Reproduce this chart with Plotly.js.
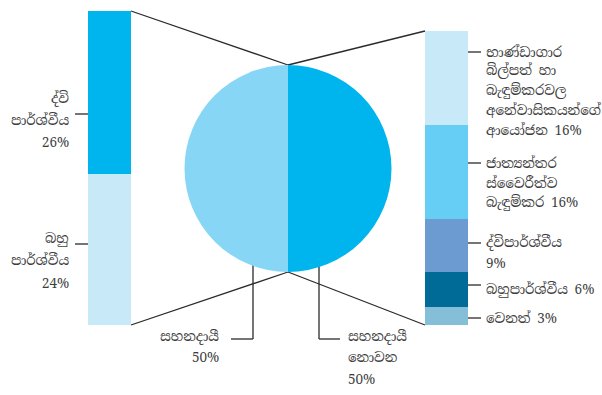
<!DOCTYPE html>
<html>
<head>
<meta charset="utf-8">
<script src="https://cdn.plot.ly/plotly-3.0.1.min.js"></script>
<style>html,body{margin:0;padding:0;background:#fff}#chart{width:602px;height:395px}</style>
</head>
<body>
<div id="chart"></div>
<script>
// ---- data ----
var pieLabels = ['සහනදායී නොවන', 'සහනදායී'];
var pieValues = [50, 50];
var pieColors = ['#00b5ee', '#88d6f6'];

// left bar (breakdown of concessional), bottom -> top
var leftLabels = ['බහු පාර්ශ්වීය', 'ද්වි පාර්ශ්වීය'];
var leftValues = [24, 26];
var leftColors = ['#c8e9f8', '#00b5ee'];

// right bar (breakdown of non-concessional), bottom -> top
var rightLabels = ['වෙනත්', 'බහුපාර්ශ්වීය', 'ද්විපාර්ශ්වීය', 'ජාත්‍යන්තර ස්වෛරීත්ව බැඳුම්කර', 'භාණ්ඩාගාර බිල්පත් හා බැඳුම්කරවල අනේවාසිකයන්ගේ ආයෝජන'];
var rightValues = [3, 6, 9, 16, 16];
var rightColors = ['#84bfd7', '#006b96', '#6b9bd1', '#66cdf5', '#c8e9f8'];

// text lines of labels (as drawn)
var leftText = [['බහු', 'පාර්ශ්වීය', '24%'], ['ද්වි', 'පාර්ශ්වීය', '26%']];
var rightText = [['වෙනත් 3%'], ['බහුපාර්ශ්වීය 6%'], ['ද්විපාර්ශ්වීය', '9%'],
  ['ජාත්‍යන්තර', 'ස්වෛරීත්ව', 'බැඳුම්කර 16%'],
  ['භාණ්ඩාගාර', 'බිල්පත් හා', 'බැඳුම්කරවල', 'අනේවාසිකයන්ගේ', 'ආයෝජන 16%']];
var pieText = [['සහනදායී', '50%'], ['සහනදායී', 'නොවන', '50%']];

// ---- layout helpers ----
var W = 602, H = 395;
function px(x){ return x / W; }
function py(y){ return 1 - y / H; }
var FONT = '"Noto Serif Sinhala","Noto Sans Sinhala","Iskoola Pota",serif';
var FS = 13.5;
var TXT = '#3c3c3c';
var LINE = '#2b2b2b';

var pieCx = 288, pieCy = 168.5, pieR = 103.5;
function pieEdgeY(x){ return pieCy + Math.sqrt(pieR*pieR - (x-pieCx)*(x-pieCx)); }

// bar geometry (paper coords)
var LB = {x: [px(88), px(131)], y: [py(325), py(11)]};
var RB = {x: [px(425), px(468)], y: [py(325), py(31)]};

var traces = [];
traces.push({
  type: 'pie', values: pieValues, labels: pieLabels, sort: false,
  direction: 'clockwise', rotation: 0,
  marker: {colors: pieColors, line: {width: 0}},
  textinfo: 'none', hoverinfo: 'label+percent', showlegend: false,
  domain: {x: [px(pieCx - pieR), px(pieCx + pieR)], y: [py(pieCy + pieR), py(pieCy - pieR)]}
});
leftValues.forEach(function(v, i){
  traces.push({type: 'bar', x: [0], y: [v], name: leftLabels[i], width: 1,
    marker: {color: leftColors[i], line: {width: 0}}, xaxis: 'x', yaxis: 'y', showlegend: false, hoverinfo: 'name+y'});
});
rightValues.forEach(function(v, i){
  traces.push({type: 'bar', x: [0], y: [v], name: rightLabels[i], width: 1,
    marker: {color: rightColors[i], line: {width: 0}}, xaxis: 'x2', yaxis: 'y2', showlegend: false, hoverinfo: 'name+y'});
});

var leftTotal = leftValues.reduce(function(a,b){return a+b;}, 0);
var rightTotal = rightValues.reduce(function(a,b){return a+b;}, 0);

var shapes = [];
function seg(x0, y0, x1, y1){
  shapes.push({type: 'line', x0: x0, y0: y0, x1: x1, y1: y1, xref: 'paper', yref: 'paper',
    line: {color: LINE, width: 1.3}, layer: 'below'});
}
// connectors from pie to bars (bar tops/bottoms = stacked totals on the axis domains)
seg(LB.x[1], LB.y[1], px(pieCx), py(pieCy - pieR));
seg(LB.x[1], LB.y[0], px(pieCx), py(pieCy + pieR));
seg(RB.x[0], RB.y[1], px(pieCx), py(pieCy - pieR));
seg(RB.x[0], RB.y[0], px(pieCx), py(pieCy + pieR));

var annotations = [];
function addLines(lines, x, yc, spacing, anchor){
  lines.forEach(function(t, k){
    annotations.push({text: t, x: px(x), y: py(yc + k*spacing), xref: 'paper', yref: 'paper',
      xanchor: anchor, yanchor: 'middle', showarrow: false, font: {family: FONT, size: FS, color: TXT}});
  });
}
// left labels
var leftLeaderY = [244, 114];
var leftFirstY = [238, 98];
leftText.forEach(function(lines, i){
  seg(px(75), py(leftLeaderY[i]), px(88), py(leftLeaderY[i]));
  addLines(lines, 71, leftFirstY[i], 22.5, 'right');
});
// right labels
var rightLeaderY = [318, 285, 243, 163, 52];
var rightFirstY = [318, 289, 243, 163, 52];
var rightSpacing = [20, 20, 20, 20, 19.5];
rightText.forEach(function(lines, i){
  seg(px(468), py(rightLeaderY[i]), px(481), py(rightLeaderY[i]));
  addLines(lines, 484, rightFirstY[i], rightSpacing[i], 'left');
});
// pie labels
seg(px(231), py(339), px(253), py(339));
seg(px(253), py(339), px(253), py(pieEdgeY(253) - 3));
seg(px(319), py(339), px(340), py(339));
seg(px(319), py(339), px(319), py(pieEdgeY(319) - 3));
addLines(pieText[0], 221, 336, 21.5, 'right');
addLines(pieText[1], 346, 336, 21.5, 'left');

var axisHidden = {showgrid: false, zeroline: false, showticklabels: false, ticks: '', showline: false, fixedrange: true};
var layout = {
  width: W, height: H, margin: {l: 0, r: 0, t: 0, b: 0},
  paper_bgcolor: '#ffffff', plot_bgcolor: 'rgba(0,0,0,0)',
  barmode: 'stack', bargap: 0, showlegend: false,
  xaxis: Object.assign({domain: LB.x, range: [-0.5, 0.5]}, axisHidden),
  yaxis: Object.assign({domain: LB.y, range: [0, leftTotal]}, axisHidden),
  xaxis2: Object.assign({domain: RB.x, range: [-0.5, 0.5], anchor: 'y2'}, axisHidden),
  yaxis2: Object.assign({domain: RB.y, range: [0, rightTotal], anchor: 'x2'}, axisHidden),
  shapes: shapes, annotations: annotations
};
Plotly.newPlot('chart', traces, layout, {displayModeBar: false, staticPlot: true});
</script>
</body>
</html>
